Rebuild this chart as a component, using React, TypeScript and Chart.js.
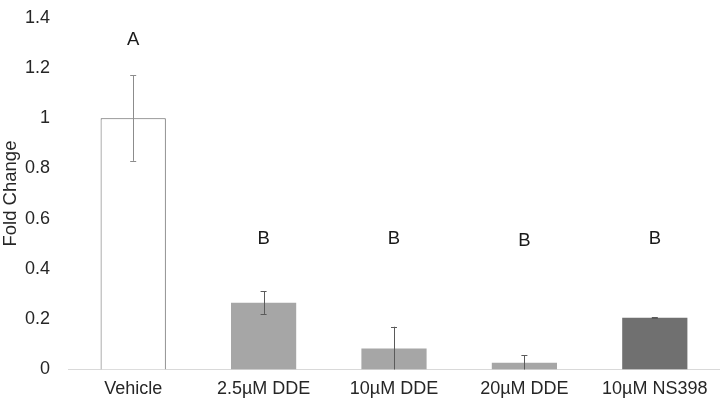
import React, { useEffect, useRef } from "react";
import { Chart, registerables } from "chart.js";

Chart.register(...registerables);

const categories = ["Vehicle", "2.5µM DDE", "10µM DDE", "20µM DDE", "10µM NS398"];
const foldChange = [1.0, 0.266, 0.084, 0.027, 0.206];
const errors = [0.17, 0.045, 0.086, 0.03, 0.002];
const letters = ["A", "B", "B", "B", "B"];
const letterPos = [1.31, 0.52, 0.52, 0.51, 0.52];
const yTicks = [0, 0.2, 0.4, 0.6, 0.8, 1, 1.2, 1.4];

const barFill = ["#ffffff", "#a6a6a6", "#a6a6a6", "#a6a6a6", "#707070"];
const barBorder = ["#606060", "#a6a6a6", "#a6a6a6", "#a6a6a6", "#707070"];
const barBorderWidth = [1, 0, 0, 0, 0];
const errColor = ["#8c8c8c", "#5a5a5a", "#5a5a5a", "#5a5a5a", "#5a5a5a"];

const FONT = "'Liberation Sans', Arial, sans-serif";
const TEXT = "#262626";

const overlayPlugin = {
  id: "overlay",
  afterDatasetsDraw(chart: any) {
    const { ctx, scales } = chart;
    const x = scales.x;
    const y = scales.y;
    ctx.save();
    categories.forEach((_, i) => {
      const cx = x.getPixelForValue(i);
      const v = foldChange[i];
      const e = errors[i];
      const top = y.getPixelForValue(v + e);
      const bot = y.getPixelForValue(Math.max(0, v - e));
      ctx.strokeStyle = errColor[i];
      ctx.lineWidth = 1;
      ctx.beginPath();
      ctx.moveTo(Math.round(cx) + 0.5, top);
      ctx.lineTo(Math.round(cx) + 0.5, bot);
      ctx.moveTo(cx - 3, Math.round(top) + 0.5);
      ctx.lineTo(cx + 3, Math.round(top) + 0.5);
      if (v - e > 0) {
        ctx.moveTo(cx - 3, Math.round(bot) + 0.5);
        ctx.lineTo(cx + 3, Math.round(bot) + 0.5);
      }
      ctx.stroke();
      ctx.fillStyle = "#1a1a1a";
      ctx.font = `18.5px ${FONT}`;
      ctx.textAlign = "center";
      ctx.textBaseline = "middle";
      ctx.fillText(letters[i], cx, y.getPixelForValue(letterPos[i]));
    });
    ctx.restore();
  },
};

export default function App() {
  const ref = useRef<HTMLCanvasElement | null>(null);
  useEffect(() => {
    if (!ref.current) return;
    const chart = new Chart(ref.current, {
      type: "bar",
      data: {
        labels: categories,
        datasets: [
          {
            data: foldChange,
            backgroundColor: barFill,
            borderColor: barBorder,
            borderWidth: barBorderWidth,
            barPercentage: 1,
            categoryPercentage: 0.5,
          },
        ],
      },
      options: {
        animation: false,
        responsive: true,
        maintainAspectRatio: false,
        layout: { padding: { top: 17.6, left: 0, right: 0, bottom: 0 } },
        plugins: {
          legend: { display: false },
          tooltip: { enabled: false },
        },
        scales: {
          x: {
            grid: { display: false, drawTicks: false },
            border: { display: true, color: "#d9d9d9", width: 1 },
            ticks: {
              color: TEXT,
              font: { family: FONT, size: 18 },
              padding: 9,
              maxRotation: 0,
              autoSkip: false,
            },
            afterFit: (s: any) => {
              s.height = 37.5;
              s.paddingLeft = 0;
              s.paddingRight = 0;
            },
          },
          y: {
            min: 0,
            max: 1.4,
            grid: { display: false, drawTicks: false },
            border: { display: false },
            afterBuildTicks: (s: any) => {
              s.ticks = yTicks.map((v) => ({ value: v }));
            },
            ticks: {
              color: TEXT,
              font: { family: FONT, size: 18 },
              padding: 18,
              callback: (v: any) => String(v),
            },
            title: {
              display: true,
              text: "Fold Change",
              color: TEXT,
              font: { family: FONT, size: 18.5 },
              padding: 0,
            },
            afterFit: (s: any) => {
              s.width = 68;
              s.paddingTop = 0;
              s.paddingBottom = 0;
            },
          },
        },
      },
      plugins: [overlayPlugin],
    });
    return () => chart.destroy();
  }, []);
  return (
    <div style={{ position: "fixed", left: 0, top: 0, width: 720, height: 407, background: "#fff" }}>
      <canvas ref={ref} />
    </div>
  );
}
